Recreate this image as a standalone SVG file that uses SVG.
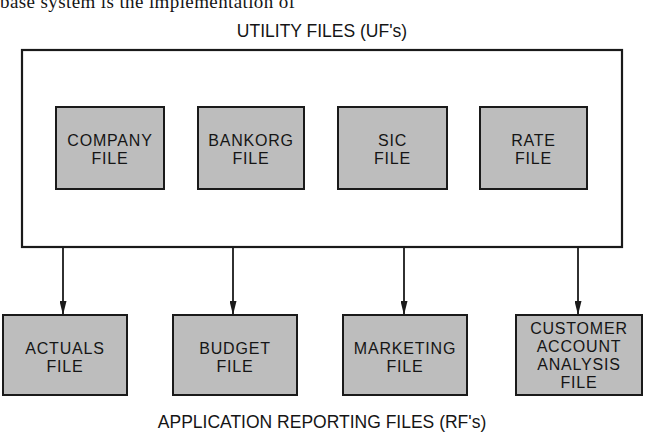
<svg xmlns="http://www.w3.org/2000/svg" width="646" height="434" viewBox="0 0 646 434">
  <style>
    .box { fill: #bdbdbd; stroke: #1a1a1a; stroke-width: 2; }
    .outer { fill: none; stroke: #1a1a1a; stroke-width: 2.2; }
    .lbl { font-family: "Liberation Sans", Arial, sans-serif; font-size: 16px; letter-spacing: 0.8px; fill: #151515; text-anchor: middle; }
    .title { font-family: "Liberation Sans", Arial, sans-serif; font-size: 17.5px; fill: #151515; text-anchor: middle; }
    .body { font-family: "Liberation Serif", "Times New Roman", serif; font-size: 19px; fill: #151515; }
    .conn { stroke: #1a1a1a; stroke-width: 1.8; fill: none; }
  </style>
  <defs>
    <marker id="ah" viewBox="0 0 14 7" refX="14" refY="3.5" markerWidth="14" markerHeight="7" markerUnits="userSpaceOnUse" orient="auto">
      <path d="M0,0 L14,3.5 L0,7 Z" fill="#1a1a1a"/>
    </marker>
  </defs>
  <rect width="646" height="434" fill="#ffffff"/>

  <text class="body" x="0" y="8" textLength="295" lengthAdjust="spacing">base system is the implementation of</text>

  <text class="title" x="322" y="37">UTILITY FILES (UF's)</text>

  <g id="utility-files">
    <rect class="outer" x="22" y="50" width="600" height="197"/>
  </g>

  <g id="company-file">
    <rect class="box" x="56" y="107" width="108" height="82"/>
    <text class="lbl" x="110" y="146">COMPANY</text>
    <text class="lbl" x="110" y="164">FILE</text>
  </g>
  <g id="bankorg-file">
    <rect class="box" x="198" y="107" width="106" height="82"/>
    <text class="lbl" x="251" y="146">BANKORG</text>
    <text class="lbl" x="251" y="164">FILE</text>
  </g>
  <g id="sic-file">
    <rect class="box" x="338" y="107" width="109" height="82"/>
    <text class="lbl" x="392.5" y="146">SIC</text>
    <text class="lbl" x="392.5" y="164">FILE</text>
  </g>
  <g id="rate-file">
    <rect class="box" x="480" y="107" width="107" height="82"/>
    <text class="lbl" x="533.5" y="146">RATE</text>
    <text class="lbl" x="533.5" y="164">FILE</text>
  </g>

  <g id="connectors">
    <line class="conn" x1="63" y1="247" x2="63" y2="315" marker-end="url(#ah)"/>
    <line class="conn" x1="233" y1="247" x2="233" y2="315" marker-end="url(#ah)"/>
    <line class="conn" x1="404" y1="247" x2="404" y2="315" marker-end="url(#ah)"/>
    <line class="conn" x1="578" y1="247" x2="578" y2="315" marker-end="url(#ah)"/>
  </g>

  <g id="actuals-file">
    <rect class="box" x="3" y="315" width="124" height="80"/>
    <text class="lbl" x="65" y="354">ACTUALS</text>
    <text class="lbl" x="65" y="372">FILE</text>
  </g>
  <g id="budget-file">
    <rect class="box" x="173" y="315" width="124" height="80"/>
    <text class="lbl" x="235" y="354">BUDGET</text>
    <text class="lbl" x="235" y="372">FILE</text>
  </g>
  <g id="marketing-file">
    <rect class="box" x="343" y="315" width="124" height="80"/>
    <text class="lbl" x="405" y="354">MARKETING</text>
    <text class="lbl" x="405" y="372">FILE</text>
  </g>
  <g id="customer-account-analysis-file">
    <rect class="box" x="516" y="315" width="126" height="80"/>
    <text class="lbl" x="579" y="334">CUSTOMER</text>
    <text class="lbl" x="579" y="352">ACCOUNT</text>
    <text class="lbl" x="579" y="370">ANALYSIS</text>
    <text class="lbl" x="579" y="388">FILE</text>
  </g>

  <text class="title" x="322" y="428">APPLICATION REPORTING FILES (RF's)</text>
</svg>
